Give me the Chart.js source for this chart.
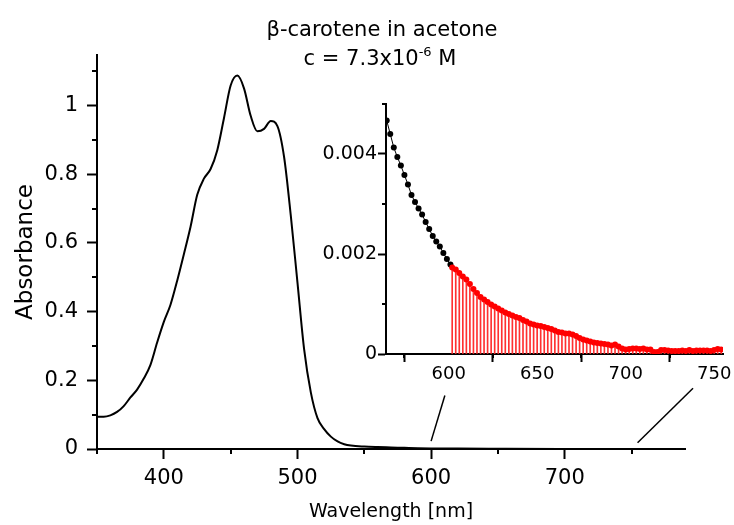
<!DOCTYPE html>
<html>
<head>
<meta charset="utf-8">
<script src="https://cdn.jsdelivr.net/npm/chart.js@4/dist/chart.umd.min.js"></script>
<style>
  body { margin: 0; background: #fff; }
  #wrap { position: relative; width: 734px; height: 525px; }
  #main { position: absolute; left: 0; top: 0; }
  #inset { position: absolute; left: 300px; top: 90px; }
</style>
</head>
<body>
<div id="wrap">
  <canvas id="main" width="734" height="525"></canvas>
  <canvas id="inset" width="434" height="300"></canvas>
</div>
<script>
// main spectrum
var mainNm = [350,355,360,365,370,375,380,385,390,395,400,405,410,415,420,425,430,435,440,445,
              450,455,460,465,470,475,480,485,490,495,500,505,510,515,520,525,530,535,540,
              550,560,570,580,590,600,620,650,700,750,790];
var mainAbs = [0.094,0.094,0.098,0.108,0.125,0.150,0.173,0.205,0.245,0.310,
               0.370,0.420,0.490,0.567,0.647,0.740,0.787,0.815,0.870,0.963,
               1.058,1.087,1.050,0.970,0.925,0.932,0.955,0.940,0.850,0.680,
               0.485,0.290,0.165,0.090,0.058,0.036,0.022,0.014,0.010,
               0.007,0.0055,0.0045,0.0035,0.0025,0.0018,0.0011,0.0006,0.0001,0.0001,0.0001];
var mainXTicks = [400,500,600,700];
var mainXMinor = [350,450,550,650,750];
var mainYTicks = [0,0.2,0.4,0.6,0.8,1];
var mainYMinor = [0.1,0.3,0.5,0.7,0.9,1.1];

// zoom connectors (main axis units)
var link600 = [[600,0.023],[610.3,0.156]];
var link750 = [[754.5,0.018],[796,0.177]];

// inset: tail of the spectrum
var blackNm = [565,567,569,571,573,575,577,579,581,583,585,587,589,591,593,595,597,599,601];
var blackAbs = [0.00467,0.00440,0.00413,0.00394,0.00377,0.00358,0.00339,0.00318,0.00304,0.00291,
                0.00279,0.00264,0.00250,0.00236,0.00225,0.00215,0.00202,0.00190,0.00179];
var redNm = [602,604,606,608,610,612,614,616,618,620,622,624,626,628,630,632,634,636,638,640,
             642,644,646,648,650,652,654,656,658,660,662,664,666,668,670,672,674,676,678,680,
             682,684,686,688,690,692,694,696,698,700,702,704,706,708,710,712,714,716,718,720,
             722,724,726,728,730,732,734,736,738,740,742,744,746,748,750,752,754];
var redAbs = [0.00173,0.00169,0.00162,0.00155,0.00149,0.00140,0.00130,0.00122,0.00114,0.00109,
              0.00104,0.00099,0.00095,0.00091,0.00087,0.00083,0.00080,0.00077,0.00074,0.00072,
              0.00068,0.00065,0.00061,0.00059,0.00057,0.00056,0.00054,0.00052,0.00050,0.00047,
              0.00044,0.00043,0.00041,0.00041,0.00039,0.00036,0.00032,0.00029,0.00027,0.00025,
              0.00023,0.00022,0.00021,0.00020,0.00019,0.00017,0.00019,0.00015,0.00011,0.00009,
              0.00010,0.00011,0.00011,0.00010,0.00011,0.00009,0.00009,0.00004,0.00004,0.00008,
              0.00008,0.00007,0.00006,0.00006,0.00006,0.00007,0.00006,0.00008,0.00006,0.00007,
              0.00007,0.00007,0.00007,0.00006,0.00008,0.00010,0.00009];
var insetXTicks = [600,650,700,750];
var insetXMinor = [575,625,675,725];
var insetYTicks = [0,0.002,0.004];
var insetYMinor = [0.001,0.003,0.005];

var FONT = 'DejaVu Sans';

function pts(xs, ys) { return xs.map((x, i) => ({x: x, y: ys[i]})); }
function pairs(a) { return a.map(p => ({x: p[0], y: p[1]})); }

var minorTicks = {
    id: 'minorTicks',
    afterDraw(chart, args, o) {
        var ctx = chart.ctx, x = chart.scales.x, y = chart.scales.y;
        ctx.save();
        ctx.strokeStyle = '#000';
        ctx.lineWidth = o.width;
        ctx.beginPath();
        o.x.forEach(v => {
            var px = Math.round(x.getPixelForValue(v));
            ctx.moveTo(px, x.top); ctx.lineTo(px, x.top + o.len);
        });
        o.y.forEach(v => {
            var py = Math.round(y.getPixelForValue(v));
            ctx.moveTo(y.right, py); ctx.lineTo(y.right - o.len, py);
        });
        ctx.stroke();
        ctx.restore();
    }
};

var titles = {
    id: 'titles',
    afterDraw(chart) {
        var ctx = chart.ctx;
        ctx.save();
        ctx.fillStyle = '#000';
        ctx.textBaseline = 'alphabetic';
        ctx.font = '21px "' + FONT + '"';
        ctx.textAlign = 'center';
        ctx.fillText('\u03b2-carotene in acetone', 382, 36);
        // second line with superscript
        var a = 'c = 7.3x10', s = '-6', b = ' M';
        ctx.textAlign = 'left';
        var wa = ctx.measureText(a).width, wb = ctx.measureText(b).width;
        ctx.font = '13px "' + FONT + '"';
        var ws = ctx.measureText(s).width;
        var x0 = 380 - (wa + ws + wb) / 2;
        ctx.fillText(s, x0 + wa, 56);
        ctx.font = '21px "' + FONT + '"';
        ctx.fillText(a, x0, 65);
        ctx.fillText(b, x0 + wa + ws, 65);
        ctx.restore();
    }
};

function axis(opts) {
    return Object.assign({
        type: 'linear',
        offset: false,
        border: {color: '#000', width: 2},
        grid: {drawOnChartArea: false, color: '#000', tickColor: '#000', tickWidth: 2, tickLength: opts.tl},
        ticks: {
            color: '#000', autoSkip: false, maxRotation: 0, padding: opts.pad,
            font: {family: FONT, size: opts.fs},
            callback: v => String(v)
        },
        afterBuildTicks: s => { s.ticks = opts.list.map(v => ({value: v})); }
    }, opts.extra);
}

new Chart(document.getElementById('main'), {
    type: 'scatter',
    data: {
        datasets: [
            {
                data: pts(mainNm, mainAbs),
                showLine: true,
                borderColor: '#000',
                borderWidth: 2,
                pointRadius: 0,
                cubicInterpolationMode: 'monotone'
            },
            {
                data: pairs(link600),
                showLine: true, borderColor: '#000', borderWidth: 1.5, pointRadius: 0
            },
            {
                data: pairs(link750),
                showLine: true, borderColor: '#000', borderWidth: 1.5, pointRadius: 0,
                clip: false
            }
        ]
    },
    options: {
        responsive: false,
        animation: false,
        events: [],
        layout: {padding: {left: 0, right: 49, top: 55, bottom: 0}},
        plugins: {
            legend: {display: false},
            tooltip: {enabled: false},
            minorTicks: {x: mainXMinor, y: mainYMinor, len: 5, width: 2}
        },
        scales: {
            x: axis({tl: 10, pad: 7, fs: 21, list: mainXTicks, extra: {
                min: 350, max: 790,
                title: {display: true, text: 'Wavelength [nm]', color: '#000',
                        font: {family: FONT, size: 19}, padding: {top: 0, bottom: 2}},
                afterFit: s => { s.height = 76; }
            }}),
            y: axis({tl: 10, pad: 9, fs: 21, list: mainYTicks, extra: {
                min: 0, max: 1.147,
                title: {display: true, text: 'Absorbance', color: '#000',
                        font: {family: FONT, size: 23}, padding: {top: 12, bottom: 0}},
                afterFit: s => { s.width = 97; }
            }})
        }
    },
    plugins: [minorTicks, titles]
});

new Chart(document.getElementById('inset'), {
    type: 'scatter',
    data: {
        datasets: [
            {
                type: 'bar',
                data: pts(redNm, redAbs),
                backgroundColor: '#ff3030',
                barThickness: 1,
                order: 3
            },
            {
                data: pts(blackNm, blackAbs),
                showLine: true,
                borderColor: '#000',
                borderWidth: 1,
                pointRadius: 3,
                pointBorderWidth: 0,
                pointBackgroundColor: '#000',
                order: 2
            },
            {
                data: pts(redNm, redAbs),
                showLine: false,
                pointRadius: 3,
                pointBorderWidth: 0,
                pointBackgroundColor: '#ff0000',
                order: 1
            }
        ]
    },
    options: {
        responsive: false,
        animation: false,
        events: [],
        layout: {padding: {left: 0, right: 11, top: 14, bottom: 0}},
        plugins: {
            legend: {display: false},
            tooltip: {enabled: false},
            minorTicks: {x: insetXMinor, y: insetYMinor, len: 4, width: 2}
        },
        scales: {
            x: axis({tl: 8, pad: 2, fs: 18, list: insetXTicks, extra: {
                min: 564.6, max: 755,
                afterFit: s => { s.height = 36; }
            }}),
            y: axis({tl: 8, pad: 1, fs: 19, list: insetYTicks, extra: {
                min: 0, max: 0.005,
                afterFit: s => { s.width = 86; }
            }})
        }
    },
    plugins: [minorTicks]
});
</script>
</body>
</html>
